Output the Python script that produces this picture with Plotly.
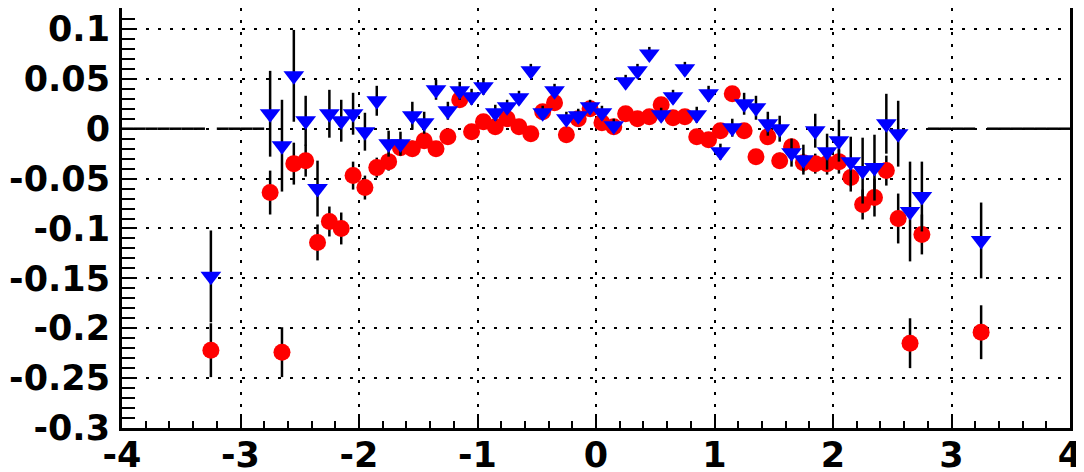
import plotly.graph_objects as go

# bin centres
x_red = [-3.25, -2.75, -2.65, -2.55, -2.45, -2.35, -2.25, -2.15, -2.05, -1.95, -1.85, -1.75, -1.65, -1.55,
         -1.45, -1.35, -1.25, -1.15, -1.05, -0.95, -0.85, -0.75, -0.65, -0.55, -0.45, -0.35, -0.25, -0.15,
         -0.05, 0.05, 0.15, 0.25, 0.35, 0.45, 0.55, 0.65, 0.75, 0.85, 0.95, 1.05, 1.15, 1.25, 1.35, 1.45,
         1.55, 1.65, 1.75, 1.85, 1.95, 2.05, 2.15, 2.25, 2.35, 2.45, 2.55, 2.65, 2.75, 3.25]
x_blue = list(x_red)

y_red = [-0.222, -0.064, -0.224, -0.035, -0.032, -0.114, -0.093, -0.100, -0.047, -0.059, -0.039, -0.033,
         -0.019, -0.020, -0.012, -0.020, -0.008, 0.029, -0.003, 0.007, 0.002, 0.010, 0.002, -0.005, 0.017,
         0.026, -0.006, 0.010, 0.020, 0.006, 0.002, 0.015, 0.010, 0.012, 0.024, 0.011, 0.012, -0.008,
         -0.011, -0.002, 0.035, -0.002, -0.028, -0.008, -0.032, -0.018, -0.034, -0.035, -0.035, -0.033,
         -0.049, -0.076, -0.069, -0.042, -0.090, -0.215, -0.106, -0.204]
e_red = [0.027, 0.022, 0.025, 0.021, 0.016, 0.018, 0.015, 0.016, 0.014, 0.012, 0.010, 0.009, 0.008, 0.008,
         0.007, 0.007, 0.006, 0.006, 0.006, 0.005, 0.005, 0.005, 0.005, 0.005, 0.005, 0.005, 0.005, 0.005,
         0.005, 0.005, 0.005, 0.005, 0.005, 0.005, 0.005, 0.005, 0.005, 0.005, 0.005, 0.006, 0.006, 0.006,
         0.007, 0.007, 0.008, 0.008, 0.009, 0.010, 0.011, 0.012, 0.014, 0.015, 0.019, 0.015, 0.025, 0.025,
         0.020, 0.027]

y_blue = [-0.148, 0.015, -0.017, 0.053, 0.008, -0.060, 0.015, 0.008, 0.015, -0.003, 0.028, -0.015, -0.015,
          0.013, 0.006, 0.039, 0.018, 0.038, 0.032, 0.042, 0.016, 0.022, 0.031, 0.058, 0.016, 0.038, 0.010,
          0.013, 0.022, 0.016, 0.003, 0.047, 0.058, 0.075, 0.014, 0.032, 0.060, 0.014, 0.035, -0.023, 0.001,
          0.025, 0.021, 0.005, 0.000, -0.024, -0.031, -0.002, -0.023, -0.012, -0.033, -0.042, -0.039, 0.005,
          -0.005, -0.083, -0.068, -0.112]
e_blue = [0.046, 0.043, 0.046, 0.046, 0.025, 0.028, 0.024, 0.021, 0.021, 0.019, 0.015, 0.013, 0.012, 0.014,
          0.011, 0.010, 0.009, 0.009, 0.008, 0.008, 0.008, 0.007, 0.007, 0.007, 0.007, 0.007, 0.007, 0.007,
          0.007, 0.007, 0.007, 0.007, 0.007, 0.007, 0.007, 0.007, 0.007, 0.008, 0.008, 0.008, 0.009, 0.011,
          0.012, 0.012, 0.013, 0.014, 0.015, 0.017, 0.018, 0.021, 0.025, 0.033, 0.033, 0.030, 0.033, 0.050,
          0.035, 0.038]

# empty bins drawn as flat segments at zero
x_empty = [-3.95, -3.85, -3.75, -3.65, -3.55, -3.45, -3.35, -3.15, -3.05, -2.95, -2.85,
           2.85, 2.95, 3.05, 3.15, 3.35, 3.45, 3.55, 3.65, 3.75, 3.85, 3.95]
y_empty = [0.0] * len(x_empty)
half_bin = [0.05] * len(x_empty)

x_ticks = [-4, -3, -2, -1, 0, 1, 2, 3, 4]
x_ticktext = ["-4", "-3", "-2", "-1", "0", "1", "2", "3", "4"]
y_ticks = [0.1, 0.05, 0, -0.05, -0.1, -0.15, -0.2, -0.25, -0.3]
y_ticktext = ["0.1", "0.05", "0", "-0.05", "-0.1", "-0.15", "-0.2", "-0.25", "-0.3"]

fig = go.Figure()
fig.add_trace(go.Scatter(
    x=x_empty, y=y_empty, mode="markers",
    marker=dict(size=1, color="black", opacity=0),
    error_x=dict(type="data", array=half_bin, symmetric=True, color="black", thickness=2.5, width=0),
    showlegend=False, hoverinfo="skip"))
fig.add_trace(go.Scatter(
    x=x_red, y=y_red, mode="markers",
    marker=dict(symbol="circle", size=17, color="#ff0000", line=dict(width=0)),
    error_y=dict(type="data", array=e_red, color="black", thickness=2.5, width=0),
    showlegend=False))
fig.add_trace(go.Scatter(
    x=x_blue, y=y_blue, mode="markers",
    marker=dict(symbol="triangle-down", size=18, color="#0000ff", line=dict(width=0)),
    error_y=dict(type="data", array=e_blue, color="black", thickness=2.5, width=0),
    showlegend=False))

tickfont = dict(family="DejaVu Sans", size=35, color="black", weight="bold")
fig.update_xaxes(
    range=[-4, 4], tickvals=x_ticks, ticktext=x_ticktext, tickfont=tickfont, automargin=False,
    ticklabelstandoff=-6,
    showline=True, linewidth=3, linecolor="black", mirror=True,
    ticks="inside", ticklen=14, tickwidth=2, tickcolor="black",
    minor=dict(ticks="inside", dtick=0.2, tick0=0, ticklen=7, tickwidth=2, tickcolor="black", showgrid=False),
    showgrid=True, gridcolor="black", gridwidth=2, griddash="3px,9px", zeroline=False)
fig.update_yaxes(
    range=[-0.3, 0.121], tickvals=y_ticks, ticktext=y_ticktext, tickfont=tickfont, automargin=False,
    ticklabelstandoff=2,
    showline=True, linewidth=3, linecolor="black", mirror=True,
    ticks="inside", ticklen=14, tickwidth=2, tickcolor="black",
    minor=dict(ticks="inside", dtick=0.01, tick0=0, ticklen=13, tickwidth=2, tickcolor="black", showgrid=False),
    showgrid=True, gridcolor="black", gridwidth=2, griddash="3px,9px", zeroline=False)
# page body adds an 8px offset; margins compensate so the frame lands where the reference has it
fig.update_layout(
    width=1084, height=472, margin=dict(l=114, r=22, t=0, b=52),
    paper_bgcolor="white", plot_bgcolor="white")
fig.write_html("out.html")
